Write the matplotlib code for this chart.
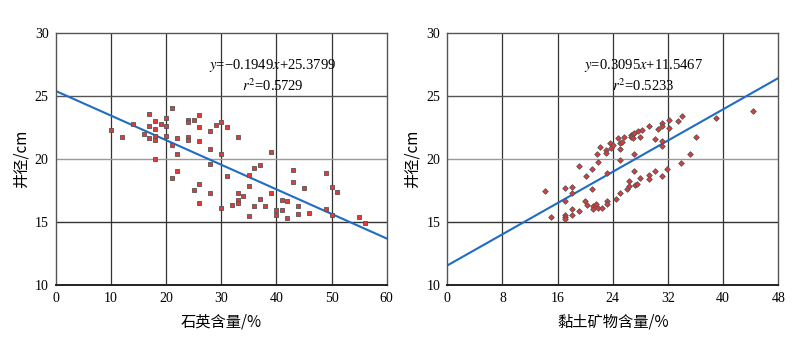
import numpy as np
import matplotlib.pyplot as plt

plt.rcParams['font.family'] = ['Liberation Serif', 'Noto Sans CJK SC']
plt.rcParams['mathtext.fontset'] = 'stix'

# 石英含量 vs 井径
quartz = [10, 12, 14, 16, 17, 17, 17, 18, 18, 18, 18, 18, 19, 20, 20, 20, 21, 21, 21,
          22, 22, 22, 24, 24, 24, 24, 25, 25, 26, 26, 26, 26, 26, 28, 28, 28, 28, 29,
          30, 30, 30, 31, 31, 32, 33, 33, 33, 33, 34, 35, 35, 35, 36, 36, 37, 37, 38,
          39, 39, 40, 40, 41, 41, 42, 42, 43, 43, 44, 44, 45, 46, 49, 49, 50, 50, 51,
          55, 56]
quartz_d = [22.29, 21.73, 22.79, 22.0, 23.55, 22.58, 21.65, 23.03, 22.39, 21.84, 21.47,
            19.99, 22.76, 23.24, 22.6, 21.81, 24.0, 21.07, 18.5, 21.65, 20.38, 19.06,
            23.1, 22.92, 21.7, 21.52, 23.1, 17.5, 23.45, 22.52, 21.41, 17.98, 16.5,
            22.2, 20.8, 19.59, 17.27, 22.68, 22.95, 20.41, 16.1, 22.55, 18.67, 16.34,
            21.7, 17.29, 16.71, 16.5, 17.03, 18.75, 17.82, 15.5, 19.25, 16.29, 19.48,
            16.82, 16.23, 20.54, 17.27, 15.92, 15.55, 16.74, 15.94, 16.66, 15.28, 19.09,
            18.16, 16.23, 15.6, 17.71, 15.73, 18.88, 16.02, 17.79, 15.57, 17.35, 15.42,
            14.91]
quartz_fit = (-0.1949, 25.3799)

# 黏土矿物含量 vs 井径
clay = [14.1, 15.1, 17.1, 17.1, 17.1, 17.1, 17.1, 18.1, 18.1, 18.1, 18.1, 19.1, 19.1,
        19.9, 20.1, 20.3, 21.0, 21.0, 21.1, 21.1, 21.5, 21.7, 21.8, 21.8, 22.2, 22.5,
        23.0, 23.0, 23.1, 23.1, 23.1, 23.6, 23.8, 24.0, 24.5, 24.8, 25.0, 25.0, 25.0,
        25.0, 25.4, 25.6, 26.1, 26.3, 26.4, 26.6, 26.7, 26.9, 27.0, 27.1, 27.1, 27.1,
        27.2, 27.5, 27.6, 28.0, 28.0, 28.3, 29.2, 29.2, 29.2, 30.1, 30.1, 30.6, 31.1,
        31.1, 31.1, 31.1, 31.2, 31.9, 32.1, 32.1, 33.5, 33.9, 34.1, 35.2, 36.1, 39.0,
        44.4]
clay_d = [17.42, 15.36, 17.69, 16.63, 15.57, 15.36, 15.2, 17.74, 17.32, 16.05, 15.57,
          19.46, 15.88, 16.63, 18.64, 16.37, 19.17, 17.58, 16.23, 16.05, 16.39, 20.38,
          19.78, 16.13, 20.94, 16.08, 20.67, 20.46, 18.88, 16.63, 16.45, 21.23, 20.83,
          21.07, 16.79, 21.62, 21.28, 20.75, 19.93, 17.27, 21.36, 21.73, 17.64, 18.24,
          17.87, 21.89, 21.76, 21.97, 21.62, 22.07, 20.36, 19.06, 17.95, 18.0, 22.23,
          21.7, 18.48, 22.26, 22.63, 18.72, 18.43, 21.6, 19.0, 22.36, 22.81, 22.6,
          21.39, 20.99, 18.61, 19.19, 23.05, 22.47, 23.0, 19.7, 23.42, 20.36, 21.7,
          23.24, 23.82]
clay_fit = (0.3095, 11.5467)

fig = plt.figure(figsize=(8, 3.41), dpi=100)
ax1 = fig.add_axes([0.0696, 0.1642, 0.4138, 0.7400])
ax2 = fig.add_axes([0.5591, 0.1642, 0.4138, 0.7400])

panels = [
    (ax1, quartz, quartz_d, quartz_fit, 's', 60, 10, '石英含量/%',
     r'$y$=−0.1949$x$+25.3799', '0.5729', 39.3),
    (ax2, clay, clay_d, clay_fit, 'D', 48, 8, '黏土矿物含量/%',
     r'$y$=0.3095$x$+11.5467', '0.5233', 28.4),
]

for ax, x, y, fit, mk, xmax, xstep, xlab, eq, r2, tx in panels:
    ax.set_xlim(0, xmax)
    ax.set_ylim(10, 30)
    ax.set_xticks(np.arange(0, xmax + 1, xstep))
    ax.set_yticks([10, 15, 20, 25, 30])
    for v in np.arange(xstep, xmax, xstep):
        ax.axvline(v, color='#333333', lw=0.9, zorder=0)
    for v, c in [(15, '#333333'), (20, '#999999'), (25, '#555555')]:
        ax.axhline(v, color=c, lw=1.0, zorder=0)
    xs = np.array([0, xmax])
    ax.plot(xs, fit[0] * xs + fit[1], color='#1f6cc4', lw=1.5, zorder=2)
    ax.scatter(x, y, marker=mk, s=10 if mk == 's' else 8, c='#e03a3a',
               edgecolors='#555555', linewidths=0.6, zorder=3)
    ax.text(tx, 27.4, eq, ha='center', va='center', fontsize=10.5)
    ax.text(tx, 25.8, r'$r^2$=' + r2, ha='center', va='center', fontsize=10.5)
    for s in ax.spines.values():
        s.set_color('#555555')
        s.set_linewidth(1.0)
    ax.spines['bottom'].set_color('#222222')
    ax.spines['bottom'].set_linewidth(1.4)
    ax.tick_params(length=0, labelsize=10, pad=5)
    ax.set_xlabel(xlab, fontsize=11, labelpad=6, family=['Noto Sans CJK SC'])
    ax.set_ylabel('井径/cm', fontsize=11, labelpad=4, family=['Noto Sans CJK SC'])

fig.savefig('out.png', dpi=100)
